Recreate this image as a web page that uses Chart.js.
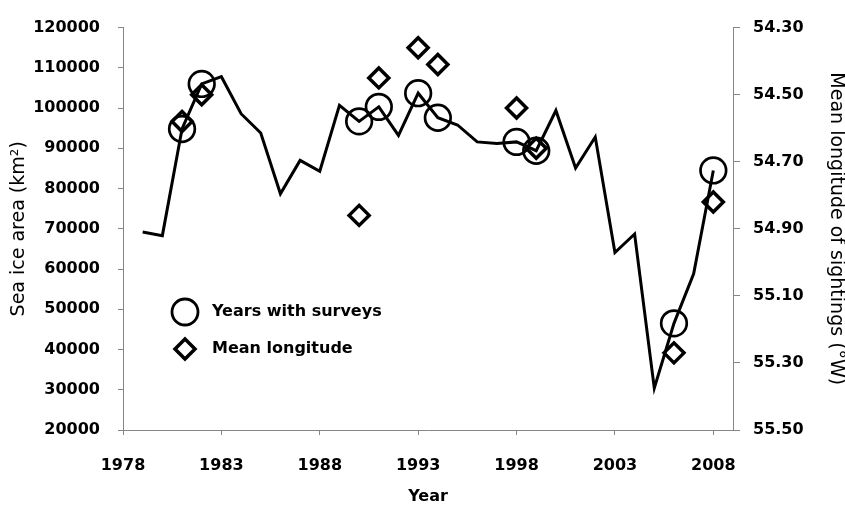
<!DOCTYPE html>
<html>
<head>
<meta charset="utf-8">
<script src="https://cdn.jsdelivr.net/npm/chart.js@4.4.0/dist/chart.umd.min.js"></script>
<style>
  body { margin: 0; background: #fff; }
  canvas { display: block; }
</style>
</head>
<body>
<canvas id="ice-chart" width="845" height="507"></canvas>
<script>
// Sea ice area per year (line)
const years = [1979, 1980, 1981, 1982, 1983, 1984, 1985, 1986, 1987, 1988,
               1989, 1990, 1991, 1992, 1993, 1994, 1995, 1996, 1997, 1998,
               1999, 2000, 2001, 2002, 2003, 2004, 2005, 2006, 2007, 2008];
const seaIceArea = [69200, 68300, 94800, 106000, 107800, 98600, 93800, 78700, 87000, 84300,
                    100700, 96700, 100300, 93200, 103700, 97600, 95800, 91600, 91200, 91600,
                    89400, 99400, 85100, 92800, 64100, 68700, 30400, 46500, 58800, 84500];

// Years with surveys (circles) and mean longitude (diamonds)
const surveyYears = [1981, 1982, 1990, 1991, 1993, 1994, 1998, 1999, 2006, 2008];
const surveyArea = [94800, 106000, 96700, 100300, 103700, 97600, 91600, 89400, 46500, 84500];
const meanLongitude = [54.58, 54.50, 54.86, 54.45, 54.36, 54.41, 54.54, 54.66, 55.27, 54.82];

// Tick labels
const xTicks = [1978, 1983, 1988, 1993, 1998, 2003, 2008];
const lonTicks = [54.3, 54.5, 54.7, 54.9, 55.1, 55.3, 55.5];

const FONT = "'DejaVu Sans', sans-serif";
const AXIS_GREY = '#868686';
const tickFont = { size: 16, weight: 'bold' };

Chart.defaults.font.family = FONT;
Chart.defaults.color = '#000';

/**
 * Legend drawn inside the plot, lower left
 */
const insideLegend = {
    id: 'insideLegend',
    afterDraw(chart) {
        const ctx = chart.ctx;
        const x = 185;
        const rows = [312, 349];
        ctx.save();
        ctx.strokeStyle = '#000';

        // circle
        ctx.lineWidth = 2.8;
        ctx.beginPath();
        ctx.arc(x, rows[0], 13, 0, Math.PI * 2);
        ctx.stroke();

        // diamond
        ctx.lineWidth = 3.5;
        ctx.beginPath();
        ctx.moveTo(x, rows[1] - 10);
        ctx.lineTo(x + 10, rows[1]);
        ctx.lineTo(x, rows[1] + 10);
        ctx.lineTo(x - 10, rows[1]);
        ctx.closePath();
        ctx.stroke();

        ctx.fillStyle = '#000';
        ctx.font = 'bold 16px ' + FONT;
        ctx.textBaseline = 'middle';
        ctx.fillText('Years with surveys', 212, rows[0]);
        ctx.fillText('Mean longitude', 212, rows[1]);
        ctx.restore();
    }
};

const ctx = document.getElementById('ice-chart');

new Chart(ctx, {
    type: 'scatter',
    data: {
        datasets: [
            {
                type: 'line',
                label: 'Sea ice area',
                data: years.map((y, i) => ({ x: y, y: seaIceArea[i] })),
                borderColor: '#000',
                borderWidth: 3,
                pointRadius: 0,
                tension: 0,
                yAxisID: 'y',
                order: 3,
            },
            {
                label: 'Years with surveys',
                data: surveyYears.map((y, i) => ({ x: y, y: surveyArea[i] })),
                pointStyle: 'circle',
                pointRadius: 12.8,
                borderWidth: 2.7,
                borderColor: '#000',
                backgroundColor: 'rgba(0,0,0,0)',
                yAxisID: 'y',
                clip: false,
                order: 2,
            },
            {
                label: 'Mean longitude',
                data: surveyYears.map((y, i) => ({ x: y, y: meanLongitude[i] })),
                pointStyle: 'rectRot',
                pointRadius: 10,
                borderWidth: 3.5,
                borderColor: '#000',
                backgroundColor: 'rgba(0,0,0,0)',
                yAxisID: 'y2',
                clip: false,
                order: 1,
            },
        ]
    },
    options: {
        responsive: false,
        animation: false,
        devicePixelRatio: 1,
        layout: { padding: { top: 18, left: 0, right: 0, bottom: 0 } },
        plugins: {
            legend: { display: false },
            tooltip: { enabled: false },
        },
        scales: {
            x: {
                type: 'linear',
                min: 1978,
                max: 2009,
                afterBuildTicks: s => { s.ticks = xTicks.map(v => ({ value: v })); },
                afterFit: s => { s.height = 77; },
                grid: { drawOnChartArea: false, tickLength: 5, color: AXIS_GREY },
                border: { color: AXIS_GREY, width: 1 },
                ticks: { padding: 21, font: tickFont, maxRotation: 0, callback: v => String(v) },
                title: { display: true, text: 'Year', font: { size: 16, weight: 'bold', lineHeight: 1 }, padding: { top: 0, bottom: 2 } },
            },
            y: {
                position: 'left',
                min: 20000,
                max: 120000,
                afterFit: s => { s.width = 123; },
                grid: { drawOnChartArea: false, tickLength: 5, color: AXIS_GREY },
                border: { color: AXIS_GREY, width: 1 },
                ticks: { stepSize: 10000, padding: 18, font: tickFont, callback: v => String(v) },
                title: { display: true, text: 'Sea ice area (km²)', font: { size: 19, lineHeight: 1 }, padding: { top: 10, bottom: 0 } },
            },
            y2: {
                position: 'right',
                min: 54.3,
                max: 55.5,
                reverse: true,
                afterBuildTicks: s => { s.ticks = lonTicks.map(v => ({ value: v })); },
                afterFit: s => { s.width = 112; },
                grid: { drawOnChartArea: false, tickLength: 7, color: AXIS_GREY },
                border: { color: AXIS_GREY, width: 1 },
                ticks: { padding: 13, font: tickFont, callback: v => Number(v).toFixed(2) },
                title: { display: true, text: 'Mean longitude of sightings (°W)', font: { size: 19, lineHeight: 1 }, padding: { top: 0, bottom: 0 } },
            },
        }
    },
    plugins: [insideLegend],
});
</script>
</body>
</html>
